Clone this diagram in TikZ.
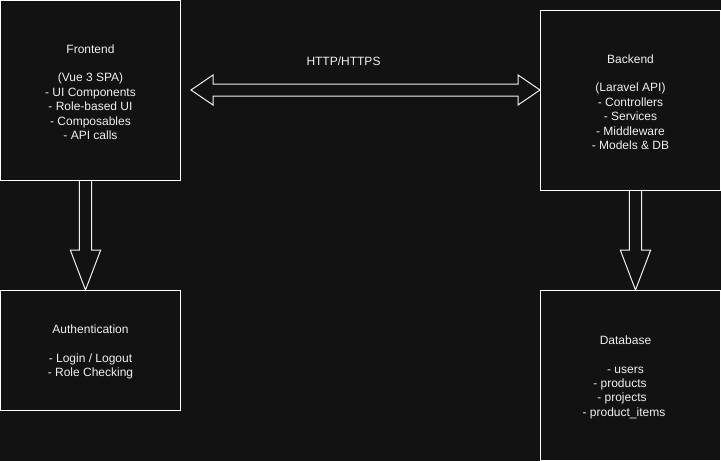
\documentclass[tikz,border=0pt]{standalone}
\usepackage{fontspec}
\setmainfont{Liberation Sans}
\usetikzlibrary{calc}
\definecolor{bg}{HTML}{121212}
\definecolor{fg}{HTML}{F0F0F0}
\newcommand{\topstrut}{\rule{0pt}{11.9pt}}
\newcommand{\padr}[2]{\mbox{#1\hspace*{#2}}}
\begin{document}
\begin{tikzpicture}[x=1pt,y=-1pt,
  box/.style={draw=white, line width=1pt, inner sep=0pt, align=center, text=fg,
    font=\fontsize{12}{14.4}\selectfont},
  lbl/.style={inner sep=0pt, text=fg, font=\fontsize{12}{14.4}\selectfont},
  flex/.style={draw=fg, line width=1pt, line join=miter}]
\fill[bg] (0,0) rectangle (721,461);
\useasboundingbox (0,0) rectangle (721,461);

\node[box, minimum width=180pt, minimum height=180pt] (front) at (90.5,90.5)
  {\topstrut Frontend\\[14.4pt](Vue 3 SPA)\\- UI Components\\- Role-based UI\\- Composables\\- API calls};
\node[box, minimum width=180pt, minimum height=180pt] (back) at (630.5,100.5)
  {\topstrut Backend\\[14.4pt](Laravel API)\\- Controllers\\- Services\\- Middleware\\- Models \& DB};
\node[box, minimum width=180pt, minimum height=120pt] (auth) at (90.5,350.5)
  {\topstrut Authentication\\[14.4pt]- Login / Logout\\- Role Checking};
\node[box, minimum width=180pt, minimum height=170pt] (db) at (630.5,375.5)
  {\topstrut\padr{Database}{10pt}\\[14.4pt]\padr{- users}{10pt}\\\padr{- products}{21pt}\\\padr{- projects}{17pt}\\\padr{- product\_items}{13pt}};

% HTTP double arrow
\coordinate (hl) at ([xshift=10pt,yshift=0.5pt]front.east);
\coordinate (hr) at (hl -| back.west);
\draw[flex] (hl) -- ($(hl)+(22,-15)$) -- ($(hl)+(22,-6)$) -- ($(hr)+(-22,-6)$)
  -- ($(hr)+(-22,-15)$) -- (hr) -- ($(hr)+(-22,15)$) -- ($(hr)+(-22,6)$)
  -- ($(hl)+(22,6)$) -- ($(hl)+(22,15)$) -- cycle;
\node[lbl] (http) at ($(hl)!0.5!(hr)+(-22,-29)$) {HTTP/HTTPS};

% Frontend -> Authentication
\coordinate (fa) at ([xshift=-5pt]front.south);
\coordinate (fb) at ([xshift=-5pt]auth.north);
\draw[flex] ($(fa)+(-6.2,0)$) -- ($(fb)+(-6.2,-40)$) -- ($(fb)+(-15.2,-40)$) -- (fb)
  -- ($(fb)+(15.2,-40)$) -- ($(fb)+(6.2,-40)$) -- ($(fa)+(6.2,0)$);

% Backend -> Database
\coordinate (ba) at ([xshift=5pt]back.south);
\coordinate (bb) at ([xshift=5pt]db.north);
\draw[flex] ($(ba)+(-6.2,0)$) -- ($(bb)+(-6.2,-40)$) -- ($(bb)+(-15.2,-40)$) -- (bb)
  -- ($(bb)+(15.2,-40)$) -- ($(bb)+(6.2,-40)$) -- ($(ba)+(6.2,0)$);
\end{tikzpicture}
\end{document}
